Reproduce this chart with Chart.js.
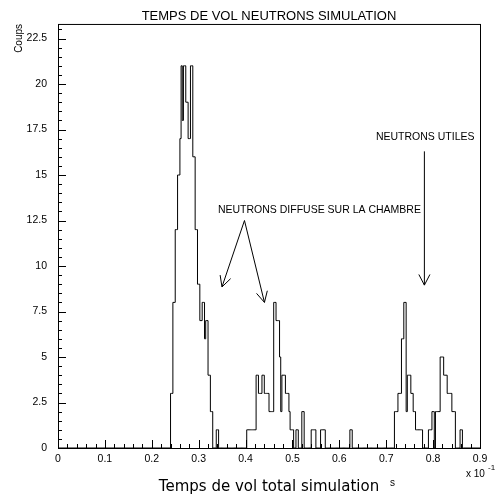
<!DOCTYPE html>
<html lang="fr">
<head>
<meta charset="UTF-8">
<title>Temps de vol neutrons simulation</title>
<style>
  html, body { margin: 0; padding: 0; background: #fff; }
  #chart { display: block; }
</style>
<script src="https://cdn.jsdelivr.net/npm/chart.js"></script>
</head>
<body>
<canvas id="chart" width="499" height="498"></canvas>
<script>
// histogram bins of 0.0025 (x 10^-1 s), only bins 96..345 are listed, the rest are empty
const binWidth = 0.0025;
const firstBin = 96;
const counts = [
  3, 3, 8, 8, 12, 12, 15, 15, 17, 21,
  18, 21, 21, 19, 19, 17, 17, 21, 21, 16,
  16, 12, 12, 9, 9, 7, 7, 8, 8, 6,
  7, 7, 4, 4, 2, 2, 0, 0, 0, 1,
  1, 0, 0, 0, 0, 0, 0, 0, 0, 0,
  0, 0, 0, 0, 0, 0, 0, 0, 0, 0,
  0, 0, 0, 0, 0, 1, 1, 1, 1, 1,
  1, 1, 1, 4, 4, 3, 3, 3, 4, 4,
  3, 3, 3, 3, 2, 2, 2, 2, 8, 8,
  7, 7, 7, 5, 2, 4, 4, 4, 3, 3,
  3, 2, 1, 1, 1, 0, 0, 1, 1, 0,
  0, 0, 2, 2, 0, 0, 0, 0, 0, 0,
  1, 1, 1, 1, 0, 0, 0, 0, 1, 1,
  1, 1, 0, 0, 0, 0, 0, 0, 0, 0,
  0, 0, 0, 0, 0, 0, 0, 0, 0, 0,
  0, 0, 0, 1, 1, 0, 0, 0, 0, 0,
  0, 0, 0, 0, 0, 0, 0, 0, 0, 0,
  0, 0, 0, 0, 0, 0, 0, 0, 0, 0,
  0, 0, 0, 0, 0, 0, 0, 0, 0, 0,
  0, 2, 2, 2, 3, 3, 3, 6, 6, 8,
  8, 2, 4, 4, 4, 3, 3, 2, 2, 1,
  1, 1, 1, 1, 1, 0, 0, 0, 0, 0,
  1, 1, 1, 2, 2, 0, 2, 2, 2, 2,
  5, 5, 5, 4, 4, 4, 3, 3, 3, 3,
  2, 2, 2, 0, 0, 0, 0, 1, 1, 0
];

const xTicks = [0, 0.1, 0.2, 0.3, 0.4, 0.5, 0.6, 0.7, 0.8, 0.9];
const xTickLabels = ['0', '0.1', '0.2', '0.3', '0.4', '0.5', '0.6', '0.7', '0.8', '0.9'];
const yTicks = [0, 2.5, 5, 7.5, 10, 12.5, 15, 17.5, 20, 22.5];
const yTickLabels = ['0', '2.5', '5', '7.5', '10', '12.5', '15', '17.5', '20', '22.5'];

// annotation texts and arrows, in axis units
const notes = [
  { text: 'NEUTRONS UTILES', x: 0.678, y: 17.1 },
  { text: 'NEUTRONS DIFFUSE SUR LA CHAMBRE', x: 0.341, y: 13.05 }
];
const arrows = [
  { from: [0.7814, 16.3], to: [0.7814, 8.95] },
  { from: [0.3977, 12.5], to: [0.3497, 8.85] },
  { from: [0.3977, 12.5], to: [0.4403, 8.0] }
];

const points = [{ x: 0, y: 0 }];
counts.forEach((c, i) => points.push({ x: (firstBin + i) * binWidth, y: c }));
points.push({ x: (firstBin + counts.length) * binWidth, y: 0 });
points.push({ x: 0.9, y: 0 });

function drawArrow(ctx, x1, y1, x2, y2) {
  const a = Math.atan2(y2 - y1, x2 - x1);
  const len = 12, spread = 0.48;
  ctx.beginPath();
  ctx.moveTo(x1, y1);
  ctx.lineTo(x2, y2);
  ctx.moveTo(x2 - len * Math.cos(a - spread), y2 - len * Math.sin(a - spread));
  ctx.lineTo(x2, y2);
  ctx.lineTo(x2 - len * Math.cos(a + spread), y2 - len * Math.sin(a + spread));
  ctx.stroke();
}

const framePlugin = {
  id: 'framePlugin',
  afterDatasetsDraw(chart) {
    const { ctx, chartArea: a, scales: { x, y } } = chart;
    ctx.save();
    ctx.strokeStyle = '#000';
    ctx.lineWidth = 1;
    ctx.strokeRect(a.left + 0.5, a.top + 0.5, a.right - a.left, a.bottom - a.top);

    // inward tick marks
    ctx.beginPath();
    for (let k = 0; k <= 45; k++) {
      const px = Math.round(x.getPixelForValue(k * 0.02)) + 0.5;
      const len = k % 5 === 0 ? 8 : 4;
      ctx.moveTo(px, a.bottom);
      ctx.lineTo(px, a.bottom - len);
    }
    for (let k = 0; k <= 46; k++) {
      const py = Math.round(y.getPixelForValue(k * 0.5)) + 0.5;
      const len = k % 5 === 0 ? 8 : 4;
      ctx.moveTo(a.left, py);
      ctx.lineTo(a.left + len, py);
    }
    ctx.stroke();

    // notes and arrows
    ctx.fillStyle = '#000';
    ctx.font = '10.5px "Liberation Sans", Arial, sans-serif';
    ctx.textBaseline = 'middle';
    notes.forEach(n => ctx.fillText(n.text, x.getPixelForValue(n.x), y.getPixelForValue(n.y)));
    arrows.forEach(r => drawArrow(ctx,
      x.getPixelForValue(r.from[0]), y.getPixelForValue(r.from[1]),
      x.getPixelForValue(r.to[0]), y.getPixelForValue(r.to[1])));

    // unit and exponent
    ctx.textBaseline = 'alphabetic';
    ctx.font = '10px "Liberation Sans", Arial, sans-serif';
    ctx.fillText('s', 390, 486);
    ctx.font = '10px "Liberation Sans", Arial, sans-serif';
    ctx.fillText('x 10', 466, 477);
    ctx.font = '8px "Liberation Sans", Arial, sans-serif';
    ctx.fillText('-1', 488, 470);
    ctx.restore();
  }
};

const tickFont = { family: '"Liberation Sans", Arial, sans-serif', size: 10.5 };

new Chart(document.getElementById('chart'), {
  type: 'line',
  data: {
    datasets: [{
      data: points,
      stepped: 'before',
      borderColor: '#000',
      borderWidth: 1,
      pointRadius: 0,
      fill: false
    }]
  },
  options: {
    responsive: false,
    animation: false,
    layout: { padding: { left: 0, right: 19, top: 0, bottom: 0 } },
    plugins: {
      legend: { display: false },
      tooltip: { enabled: false },
      title: {
        display: true,
        fullSize: false,
        text: 'TEMPS DE VOL NEUTRONS SIMULATION',
        color: '#000',
        font: { family: '"Liberation Sans", Arial, sans-serif', size: 13, weight: 'normal', lineHeight: 1.15 },
        padding: { top: 9, bottom: 0 }
      }
    },
    scales: {
      x: {
        type: 'linear',
        min: 0,
        max: 0.9,
        afterBuildTicks: s => { s.ticks = xTicks.map(v => ({ value: v })); },
        afterFit: s => { s.height = 50; },
        grid: { display: false, drawTicks: false },
        border: { display: false },
        ticks: {
          autoSkip: false,
          maxRotation: 0,
          padding: 5,
          color: '#000',
          font: tickFont,
          callback: (v, i) => xTickLabels[i]
        },
        title: {
          display: true,
          text: 'Temps de vol total simulation',
          color: '#000',
          font: { family: '"DejaVu Sans", sans-serif', size: 15 },
          padding: { top: 0, bottom: 2 }
        }
      },
      y: {
        type: 'linear',
        min: 0,
        max: 23.3,
        afterBuildTicks: s => { s.ticks = yTicks.map(v => ({ value: v })); },
        afterFit: s => { s.width = 58; },
        grid: { display: false, drawTicks: false },
        border: { display: false },
        ticks: {
          padding: 11,
          color: '#000',
          font: tickFont,
          callback: (v, i) => yTickLabels[i]
        },
        title: {
          display: true,
          text: 'Coups',
          align: 'end',
          color: '#000',
          font: { family: '"Liberation Sans", Arial, sans-serif', size: 10 },
          padding: { top: 13, bottom: 0 }
        }
      }
    }
  },
  plugins: [framePlugin]
});
</script>
</body>
</html>
